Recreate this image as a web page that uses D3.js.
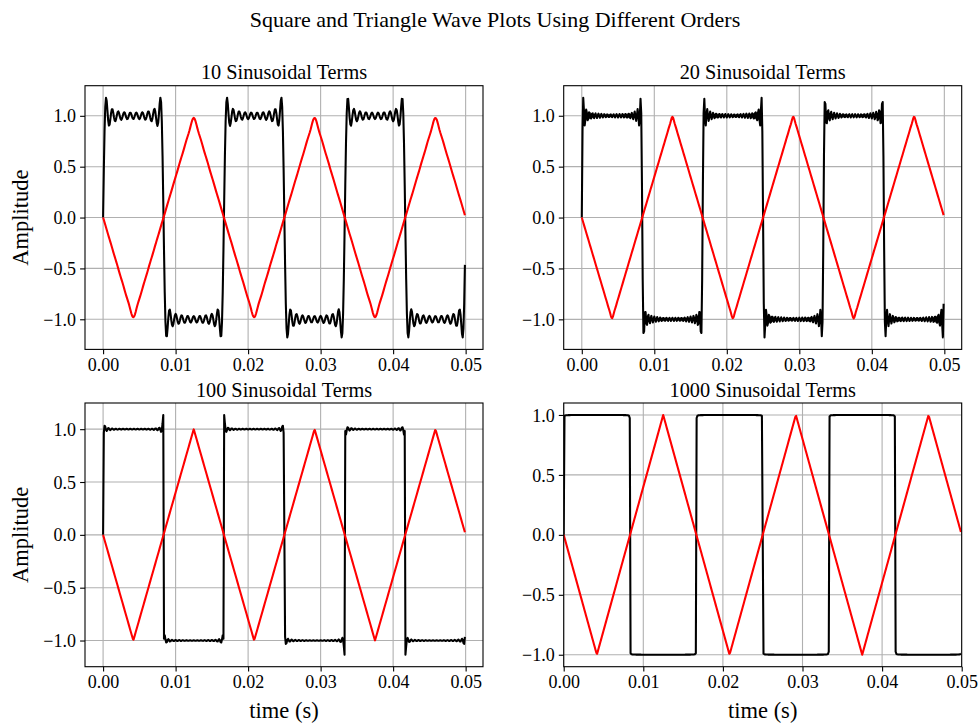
<!DOCTYPE html>
<html>
<head>
<meta charset="utf-8">
<script src="https://cdn.jsdelivr.net/npm/d3@7"></script>
<style>
  html, body { margin: 0; padding: 0; background: #ffffff; }
  svg { display: block; font-family: "Liberation Serif", "Times New Roman", serif; }
</style>
</head>
<body>
<svg id="chart" width="980" height="724"></svg>
<script>
// Partial Fourier sums of a 60 Hz square wave and triangle wave,
// one panel per number of sinusoidal terms.
const termCounts = [10, 20, 100, 1000];
const panelTitles = ["10 Sinusoidal Terms", "20 Sinusoidal Terms", "100 Sinusoidal Terms", "1000 Sinusoidal Terms"];
const fundamentalHz = [60];
const sampleStep = [1e-4];
const sampleCount = [500];
const fixedTimeLimits = [null, null, null, [0, 0.05]];
const timeTicks = [0, 0.01, 0.02, 0.03, 0.04, 0.05];
const amplitudeTicks = [-1, -0.5, 0, 0.5, 1];
const figureTitle = "Square and Triangle Wave Plots Using Different Orders";
const yLabel = "Amplitude";
const xLabel = "time (s)";

// Styling and layout
const squareColor = "#000000";
const triangleColor = "#ff0000";
const gridColor = "#b0b0b0";
const lineWidth = 2.08;
const tickLen = 4.9;
const colLeft = [85, 563.7];
const rowTop = [85.7, 403];
const panelW = 398;
const panelH = 263.7;

const svg = d3.select("#chart");
const omega = 2 * Math.PI * fundamentalHz[0];
const times = d3.range(sampleCount[0]).map(i => i * sampleStep[0]);

// Sum of the first n odd harmonics of the square wave
function squareSum(t, n) {
  let s = 0;
  for (let k = 1; k <= n; k++) {
    const h = 2 * k - 1;
    s += Math.sin(h * omega * t) / h;
  }
  return 4 / Math.PI * s;
}

// Sum of the first n odd harmonics of the triangle wave (starts downward)
function triangleSum(t, n) {
  let s = 0;
  for (let k = 0; k < n; k++) {
    const h = 2 * k + 1;
    s += (k % 2 === 0 ? 1 : -1) * Math.sin(h * omega * t) / (h * h);
  }
  return -8 / (Math.PI * Math.PI) * s;
}

function padded(ext) {
  const m = (ext[1] - ext[0]) * 0.05;
  return [ext[0] - m, ext[1] + m];
}

const fmtX = d3.format(".2f");
const fmtY = d3.format(".1f");

termCounts.forEach((n, i) => {
  const col = i % 2, row = Math.floor(i / 2);
  const left = colLeft[col], top = rowTop[row];

  const square = times.map(t => ({ t, v: squareSum(t, n) }));
  const triangle = times.map(t => ({ t, v: triangleSum(t, n) }));

  const xDom = fixedTimeLimits[i] ? fixedTimeLimits[i] : padded(d3.extent(times));
  const yDom = padded(d3.extent(square.concat(triangle), d => d.v));

  const x = d3.scaleLinear().domain(xDom).range([0, panelW]);
  const y = d3.scaleLinear().domain(yDom).range([panelH, 0]);

  const g = svg.append("g").attr("transform", `translate(${left},${top})`);

  const clipId = "clip" + i;
  g.append("clipPath").attr("id", clipId)
    .append("rect").attr("width", panelW).attr("height", panelH);

  // grid
  const grid = g.append("g").attr("clip-path", `url(#${clipId})`);
  grid.selectAll("line.gx").data(timeTicks).join("line")
    .attr("class", "gx")
    .attr("x1", d => x(d)).attr("x2", d => x(d))
    .attr("y1", 0).attr("y2", panelH)
    .attr("stroke", gridColor).attr("stroke-width", 1.1);
  grid.selectAll("line.gy").data(amplitudeTicks).join("line")
    .attr("class", "gy")
    .attr("x1", 0).attr("x2", panelW)
    .attr("y1", d => y(d)).attr("y2", d => y(d))
    .attr("stroke", gridColor).attr("stroke-width", 1.1);

  // waveforms
  const line = d3.line().x(d => x(d.t)).y(d => y(d.v));
  const plot = g.append("g").attr("clip-path", `url(#${clipId})`);
  plot.append("path").datum(square)
    .attr("d", line).attr("fill", "none")
    .attr("stroke", squareColor).attr("stroke-width", lineWidth)
    .attr("stroke-linejoin", "round");
  plot.append("path").datum(triangle)
    .attr("d", line).attr("fill", "none")
    .attr("stroke", triangleColor).attr("stroke-width", lineWidth)
    .attr("stroke-linejoin", "round");

  // axes
  const xAxis = g.append("g").attr("transform", `translate(0,${panelH})`)
    .call(d3.axisBottom(x).tickValues(timeTicks).tickFormat(fmtX)
      .tickSize(tickLen).tickPadding(3.6).tickSizeOuter(0));
  const yAxis = g.append("g")
    .call(d3.axisLeft(y).tickValues(amplitudeTicks).tickFormat(fmtY)
      .tickSize(tickLen).tickPadding(4.1).tickSizeOuter(0));
  [xAxis, yAxis].forEach(a => {
    a.attr("font-family", null).attr("font-size", null);
    a.select(".domain").remove();
    a.selectAll(".tick line").attr("stroke", "#000").attr("stroke-width", 1.1);
    a.selectAll(".tick text").attr("fill", "#000").style("font-size", "18px");
  });
  yAxis.selectAll(".tick text").attr("dy", "0.34em");

  // frame
  g.append("rect").attr("width", panelW).attr("height", panelH)
    .attr("fill", "none").attr("stroke", "#000").attr("stroke-width", 1.1);

  // panel title
  g.append("text").attr("x", panelW / 2).attr("y", -6.5)
    .attr("text-anchor", "middle").style("font-size", "20.3px")
    .attr("fill", "#000").text(panelTitles[i]);

  if (col === 0) {
    svg.append("text")
      .attr("transform", `translate(28,${top + panelH / 2}) rotate(-90)`)
      .attr("text-anchor", "middle").style("font-size", "22.5px")
      .attr("fill", "#000").text(yLabel);
  }
  if (row === 1) {
    svg.append("text")
      .attr("x", left + panelW / 2).attr("y", 718)
      .attr("text-anchor", "middle").style("font-size", "22.5px")
      .attr("fill", "#000").text(xLabel);
  }
});

svg.append("text").attr("x", 495).attr("y", 26.7)
  .attr("text-anchor", "middle").style("font-size", "22px")
  .attr("fill", "#000").text(figureTitle);
</script>
</body>
</html>
